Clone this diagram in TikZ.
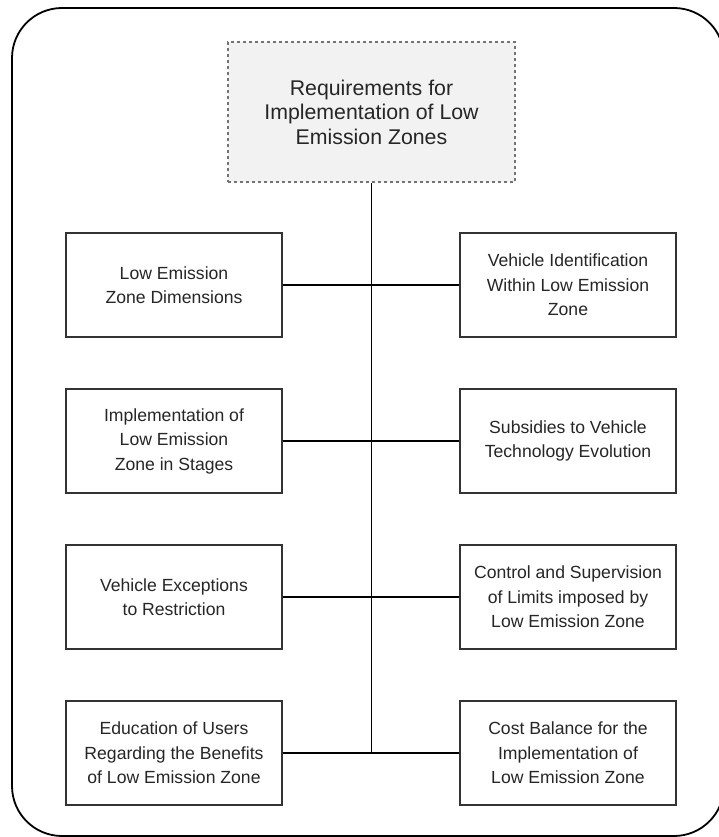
\documentclass[tikz,border=0pt]{standalone}
\usepackage{fontspec}
\setmainfont{Liberation Sans}
\begin{document}
\begin{tikzpicture}[x=1pt,y=-1pt,
  frame/.style={draw=black,line width=1.8pt,rounded corners=50pt},
  topbox/.style={draw=black!55,dashed,line width=1.1pt,fill=black!5,
    minimum width=287pt,minimum height=140pt,align=center,text=black!85,
    font=\fontsize{21.3}{24.5}\selectfont},
  itembox/.style={draw=black!80,line width=1.6pt,fill=white,
    minimum width=216pt,minimum height=104pt,align=center,text=black!85,
    font=\fontsize{17.6}{24.5}\selectfont},
  link/.style={draw=black,line width=1.8pt}]
\useasboundingbox (0,0) rectangle (719,837);
% outer rounded frame, running past the right edge
\draw[frame] (12,8) rectangle (724,836);

\node[topbox] (top) at (371.5,112) {Requirements for\\Implementation of Low\\Emission Zones};

\node[itembox] (l1) at (174,285) {Low Emission\\Zone Dimensions};
\node[itembox] (r1) at (568,285) {Vehicle Identification\\Within Low Emission\\Zone};
\node[itembox] (l2) at (174,441) {Implementation of\\Low Emission\\Zone in Stages};
\node[itembox] (r2) at (568,441) {Subsidies to Vehicle\\Technology Evolution};
\node[itembox] (l3) at (174,597) {Vehicle Exceptions\\to Restriction};
\node[itembox] (r3) at (568,597) {Control and Supervision\\of Limits imposed by\\Low Emission Zone};
\node[itembox] (l4) at (174,753) {Education of Users\\Regarding the Benefits\\of Low Emission Zone};
\node[itembox] (r4) at (568,753) {Cost Balance for the\\Implementation of\\Low Emission Zone};

% central spine and the cross links
\coordinate (spineend) at (top.south |- l4.east);
\draw[link] (top.south) -- (spineend);
\draw[link] (l1.east) -- (r1.west);
\draw[link] (l2.east) -- (r2.west);
\draw[link] (l3.east) -- (r3.west);
\draw[link] (l4.east) -- (r4.west);
\end{tikzpicture}
\end{document}
